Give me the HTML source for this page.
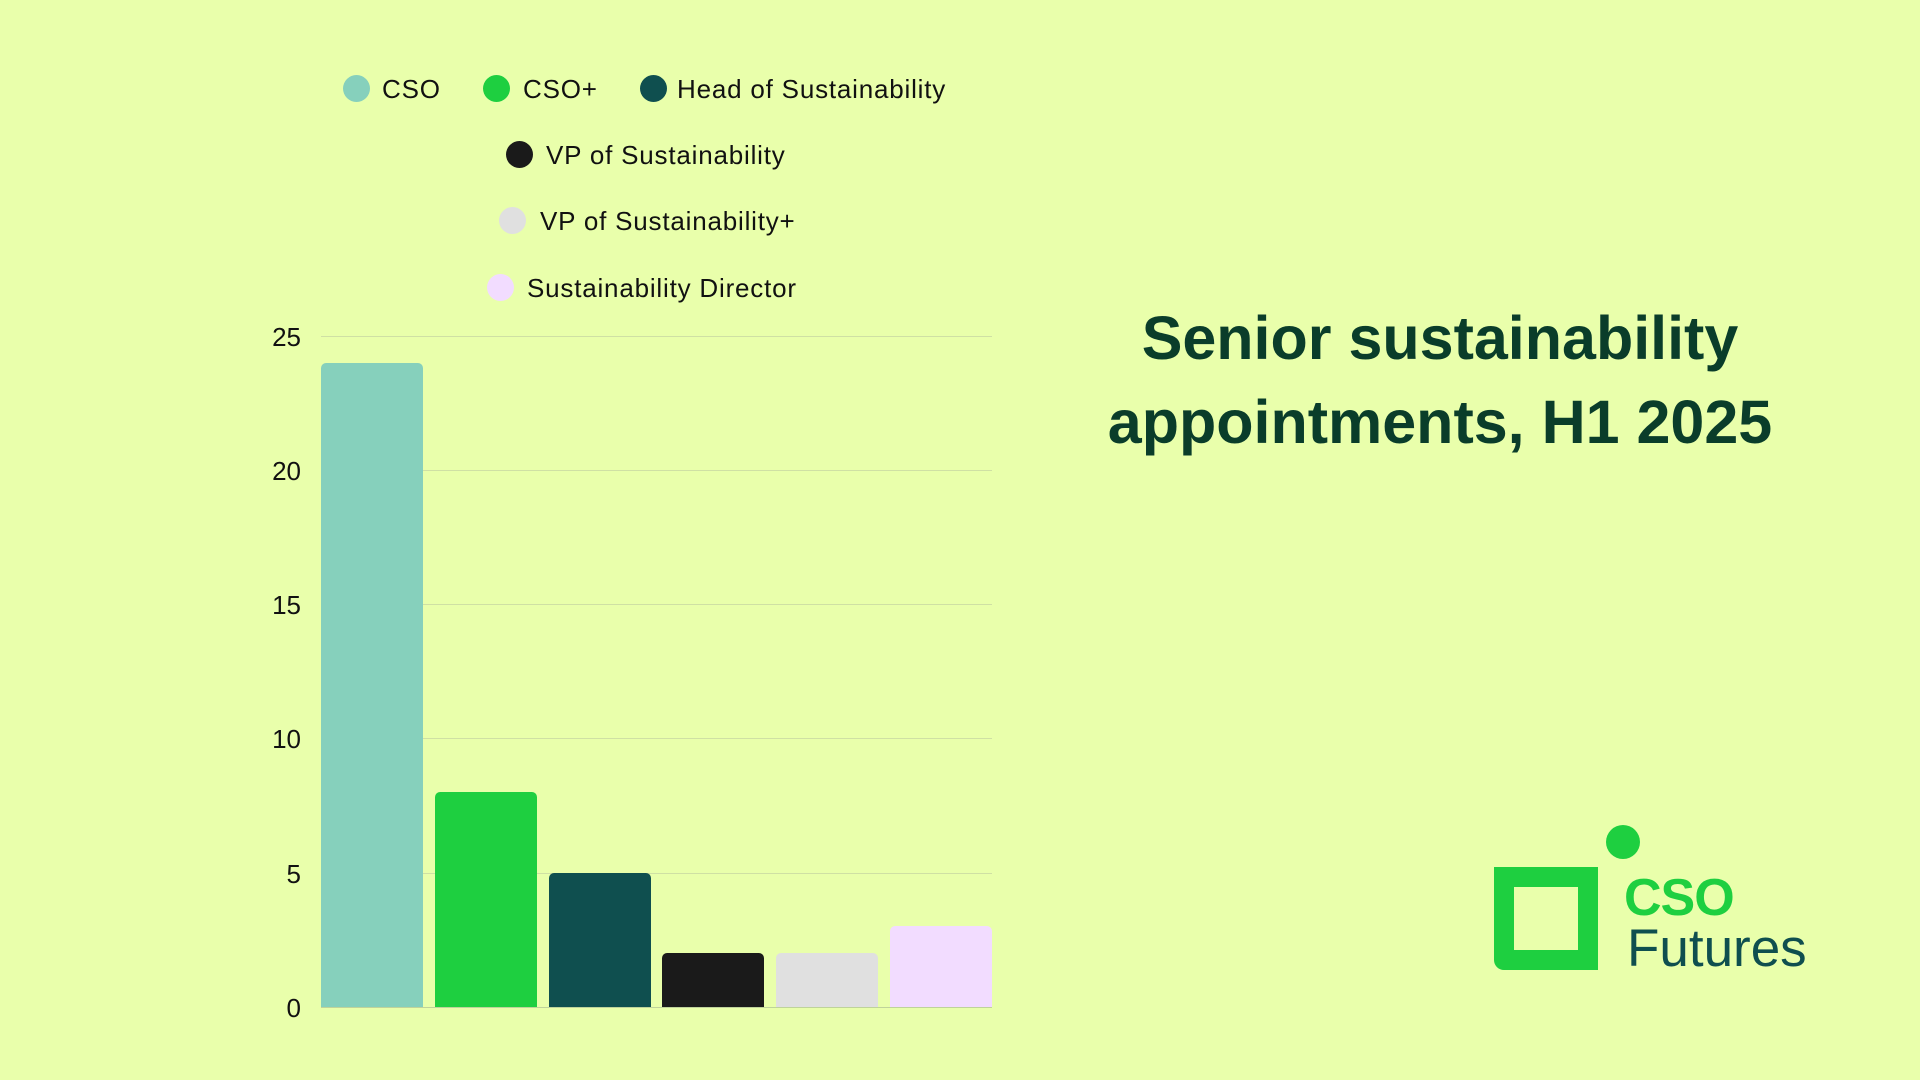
<!DOCTYPE html>
<html><head><meta charset="utf-8"><style>
html,body{margin:0;padding:0}
body{width:1920px;height:1080px;background:#e9ffab;position:relative;overflow:hidden;font-family:"Liberation Sans",sans-serif}
.t{position:absolute;font-size:26px;color:#111;line-height:1;white-space:nowrap;letter-spacing:0.8px}
.d{position:absolute;width:27px;height:27px;border-radius:50%}
.g{position:absolute;left:321px;width:671px;height:1px;background:#cfe0a4}
.y{position:absolute;left:250px;width:51px;text-align:right;font-size:26px;color:#111;line-height:1}
.b{position:absolute;width:102px;bottom:73px;border-radius:5px 5px 0 0}
</style></head><body>
<div class="d" style="left:343px;top:75px;background:#86d0bc"></div><div class="t" style="left:382px;top:76px">CSO</div>
<div class="d" style="left:483px;top:75px;background:#1ecf40"></div><div class="t" style="left:523px;top:76px">CSO+</div>
<div class="d" style="left:640px;top:75px;background:#0f4f4f"></div><div class="t" style="left:677px;top:76px">Head of Sustainability</div>
<div class="d" style="left:506px;top:141px;background:#1a1a1a"></div><div class="t" style="left:546px;top:142px">VP of Sustainability</div>
<div class="d" style="left:499px;top:207px;background:#e0e0e0"></div><div class="t" style="left:540px;top:208px">VP of Sustainability+</div>
<div class="d" style="left:487px;top:274px;background:#f2dcff"></div><div class="t" style="left:527px;top:275px">Sustainability Director</div>

<div class="g" style="top:336px"></div>
<div class="g" style="top:470px"></div>
<div class="g" style="top:604px"></div>
<div class="g" style="top:738px"></div>
<div class="g" style="top:873px"></div>
<div class="g" style="top:1007px;background:#bfd39a"></div>
<div class="y" style="top:324px">25</div>
<div class="y" style="top:458px">20</div>
<div class="y" style="top:592px">15</div>
<div class="y" style="top:726px">10</div>
<div class="y" style="top:861px">5</div>
<div class="y" style="top:995px">0</div>

<div class="b" style="left:321px;height:644px;background:#86d0bc"></div>
<div class="b" style="left:435px;height:215px;background:#1ecf40"></div>
<div class="b" style="left:549px;height:134px;background:#0f4f4f"></div>
<div class="b" style="left:662px;height:54px;background:#1a1a1a"></div>
<div class="b" style="left:776px;height:54px;background:#e0e0e0"></div>
<div class="b" style="left:890px;height:81px;background:#f2dcff"></div>

<div style="position:absolute;left:1040px;width:800px;top:296px;text-align:center;font-weight:bold;font-size:61px;line-height:84px;color:#0a3d2a">Senior sustainability<br>appointments, H1 2025</div>

<div style="position:absolute;left:1494px;top:867px;width:64px;height:63px;border:20px solid #1ecf40;border-radius:0 0 0 10px"></div>
<div style="position:absolute;left:1606px;top:825px;width:34px;height:34px;border-radius:50%;background:#1ecf40"></div>
<div style="position:absolute;left:1624px;top:872px;font-size:52px;font-weight:bold;color:#1ecf40;line-height:1;letter-spacing:-1px">CSO</div>
<div style="position:absolute;left:1627px;top:922px;font-size:53px;color:#0f4f4f;line-height:1;letter-spacing:0px">Futures</div>
</body></html>
